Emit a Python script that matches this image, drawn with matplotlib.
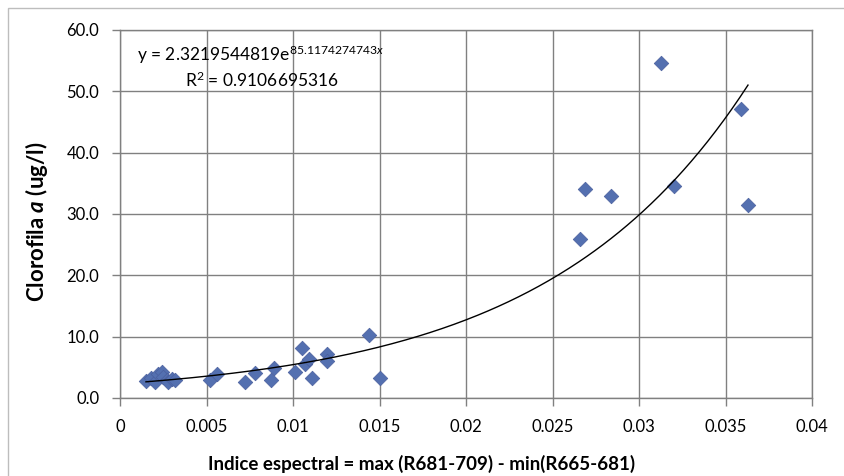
import numpy as np
import matplotlib
matplotlib.use("Agg")
import matplotlib.pyplot as plt
from matplotlib.patches import Rectangle

plt.rcParams["font.family"] = ["Lato", "DejaVu Sans"]
plt.rcParams["mathtext.fontset"] = "custom"
plt.rcParams["mathtext.rm"] = "Lato"
plt.rcParams["mathtext.it"] = "Lato:italic"
plt.rcParams["mathtext.bf"] = "Lato:bold"
plt.rcParams["mathtext.bfit"] = "Lato:italic:bold"

# Spectral index vs. chlorophyll-a samples
indice = [0.0015, 0.0018, 0.0020, 0.0022, 0.0024, 0.0025, 0.0027, 0.0028, 0.0030, 0.0032,
          0.0052, 0.0056, 0.0072, 0.0078, 0.0087, 0.0089, 0.0101, 0.0105, 0.0107, 0.0109,
          0.0111, 0.01195, 0.01195, 0.0144, 0.0150,
          0.0266, 0.0269, 0.0284, 0.0313, 0.0320, 0.0359, 0.0363]
clorofila = [2.8, 3.2, 2.6, 3.9, 4.2, 3.5, 3.0, 2.6, 3.1, 2.9,
             3.0, 3.9, 2.6, 4.0, 3.0, 4.9, 4.3, 8.1, 5.6, 6.4,
             3.3, 7.2, 6.0, 10.3, 3.3,
             25.9, 34.1, 32.9, 54.7, 34.6, 47.2, 31.4]

# Exponential trendline coefficients
coef_a = 2.3219544819
coef_b = 85.1174274743
r2 = 0.9106695316

x_ticks = [0, 0.005, 0.01, 0.015, 0.02, 0.025, 0.03, 0.035, 0.04]
x_tick_labels = ["0", "0.005", "0.01", "0.015", "0.02", "0.025", "0.03", "0.035", "0.04"]
y_ticks = [0, 10, 20, 30, 40, 50, 60]

W, H = 844, 476
fig = plt.figure(figsize=(W / 100, H / 100), dpi=100)
fig.patch.set_facecolor("white")

# Chart area border
fig.patches.append(Rectangle((8 / W, -0.1), 1.2, (H - 8) / H + 0.1, transform=fig.transFigure,
                             fill=False, edgecolor="#bdbdbd", linewidth=1.0))

ax = fig.add_axes([120 / W, (H - 398) / H, (812 - 120) / W, (398 - 30) / H])
ax.set_xlim(0, 0.04)
ax.set_ylim(0, 60)

ax.set_xticks(x_ticks)
ax.set_xticklabels(x_tick_labels)
ax.set_yticks(y_ticks)
ax.set_yticklabels([f"{v:.1f}" for v in y_ticks])

ax.grid(True, color="#808080", linewidth=1.0)
ax.set_axisbelow(True)
for s in ax.spines.values():
    s.set_color("#808080")
    s.set_linewidth(1.0)

ax.tick_params(axis="both", direction="out", length=6, width=1.0, color="#808080",
               labelsize=12, labelcolor="black")
ax.tick_params(axis="x", pad=9)
ax.tick_params(axis="y", pad=9)

ax.scatter(indice, clorofila, marker="D", s=55, color="#5470B0", edgecolors="#4A5F9E",
           linewidths=0.5, zorder=3)

xs = np.linspace(min(indice), max(indice), 300)
ax.plot(xs, coef_a * np.exp(coef_b * xs), color="black", linewidth=1.0, zorder=4)

ax.text(0.00098, 55.9, r"y = 2.3219544819e$^{85.1174274743x}$", fontsize=12.5, ha="left", va="center")
ax.text(0.00376, 51.8, f"R$^2$ = {r2}", fontsize=12.5, ha="left", va="center")

ax.set_xlabel("Indice espectral = max (R681-709) - min(R665-681)", fontsize=13.5,
              fontweight="bold", labelpad=13)
ax.xaxis.set_label_coords((422 - 120) / (812 - 120), -0.155)
ax.set_ylabel(r"Clorofila $\mathbfit{a}$ (ug/l)", fontsize=16, fontweight="bold")
ax.yaxis.set_label_coords(-(120 - 50) / (812 - 120), 0.48)

fig.savefig("out.png", dpi=100)
